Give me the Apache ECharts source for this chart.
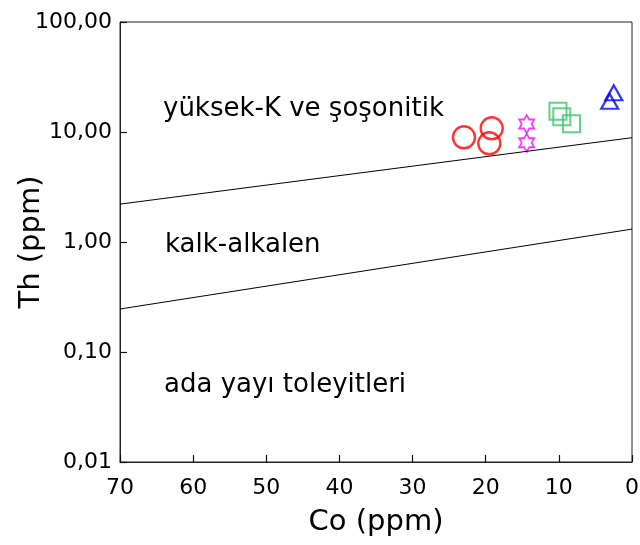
<!DOCTYPE html>
<html>
<head>
<meta charset="utf-8">
<script src="https://cdn.jsdelivr.net/npm/echarts@6/dist/echarts.min.js"></script>
<style>html,body{margin:0;padding:0;background:#fff}#c{width:640px;height:545px}</style>
</head>
<body>
<div id="c"></div>
<script>
// ---- data ----
var xTicks = [0, 10, 20, 30, 40, 50, 60, 70];
var yTickLabels = ['0,01', '0,10', '1,00', '10,00', '100,00'];
var upperBoundCo = [70, 0];
var upperBoundTh = [2.21, 8.88];
var lowerBoundCo = [70, 0];
var lowerBoundTh = [0.246, 1.31];
var circleCo = [22.97, 19.18, 19.51];
var circleTh = [8.95, 10.8, 7.89];
var starCo = [14.4, 14.4];
var starTh = [11.82, 7.99];
var squareCo = [10.12, 9.60, 8.27];
var squareTh = [15.45, 13.77, 11.88];
var triangleCo = [2.49, 3.05];
var triangleTh = [22.7, 19.0];
var fieldLabels = ['yüksek-K ve şoşonitik', 'kalk-alkalen', 'ada yayı toleyitleri'];

function pairs(xs, ys) { return xs.map(function (x, i) { return [x, ys[i]]; }); }
var FONT = 'DejaVu Sans';
var hexagram = 'path://M0,-1L0.2887,-0.5L0.866,-0.5L0.577,0L0.866,0.5L0.2887,0.5L0,1L-0.2887,0.5L-0.866,0.5L-0.577,0L-0.866,-0.5L-0.2887,-0.5Z';

var chart = echarts.init(document.getElementById('c'), null, {renderer: 'canvas'});
chart.setOption({
  animation: false,
  backgroundColor: '#fff',
  grid: {left: 120, right: 8, top: 22, bottom: 83, containLabel: false, outerBoundsMode: 'none',
    show: true, borderColor: '#222', borderWidth: 1, backgroundColor: 'transparent'},
  xAxis: {
    type: 'value', inverse: true, position: 'bottom', min: xTicks[0], max: xTicks[xTicks.length - 1], interval: 10,
    name: 'Co (ppm)', nameLocation: 'middle', nameGap: 46, nameMoveOverlap: false,
    nameTextStyle: {fontFamily: FONT, fontSize: 29, color: '#000'},
    axisLine: {show: true, onZero: false, lineStyle: {color: '#222', width: 1}},
    axisTick: {show: true, inside: true, length: 7, lineStyle: {color: '#111', width: 1.2}},
    axisLabel: {fontFamily: FONT, fontSize: 22, color: '#000', margin: 15},
    splitLine: {show: false}
  },
  yAxis: {
    type: 'log', logBase: 10, min: 0.01, max: 100, position: 'left',
    name: 'Th (ppm)', nameLocation: 'middle', nameGap: 74, nameMoveOverlap: false,
    nameTextStyle: {fontFamily: FONT, fontSize: 29, color: '#000'},
    axisLine: {show: true, onZero: false, lineStyle: {color: '#222', width: 1}},
    axisTick: {show: true, inside: true, length: 7, lineStyle: {color: '#111', width: 1.2}},
    axisLabel: {fontFamily: FONT, fontSize: 22, color: '#000', margin: 8,
      formatter: function (v) { return yTickLabels[Math.round(Math.log10(v)) + 2]; }},
    splitLine: {show: false}, minorTick: {show: false}
  },
  series: [
    {type: 'line', data: pairs(upperBoundCo, upperBoundTh), symbol: 'none', lineStyle: {color: '#000', width: 1}, silent: true},
    {type: 'line', data: pairs(lowerBoundCo, lowerBoundTh), symbol: 'none', lineStyle: {color: '#000', width: 1}, silent: true},
    {type: 'scatter', data: pairs(circleCo, circleTh), symbol: 'circle', symbolSize: 22,
      itemStyle: {color: 'rgba(0,0,0,0)', borderColor: '#ff0000', borderWidth: 2.4}},
    {type: 'scatter', data: pairs(starCo, starTh), symbol: hexagram, symbolSize: [15, 18],
      itemStyle: {color: 'rgba(0,0,0,0)', borderColor: '#ff00ff', borderWidth: 1.8}},
    {type: 'scatter', data: pairs(squareCo, squareTh), symbol: 'rect', symbolSize: 17,
      itemStyle: {color: 'rgba(0,0,0,0)', borderColor: '#3cc86a', borderWidth: 2}},
    {type: 'scatter', data: pairs(triangleCo, triangleTh), symbol: 'triangle', symbolSize: [17, 15],
      itemStyle: {color: 'rgba(0,0,0,0)', borderColor: '#0000ff', borderWidth: 2.2}}
  ],
  graphic: [
    {type: 'text', left: 163, top: 96, style: {text: fieldLabels[0], font: '26px "DejaVu Sans"', fill: '#000'}},
    {type: 'text', left: 165, top: 232, style: {text: fieldLabels[1], font: '26px "DejaVu Sans"', fill: '#000'}},
    {type: 'text', left: 164, top: 372, style: {text: fieldLabels[2], font: '26px "DejaVu Sans"', fill: '#000'}}
  ]
});
</script>
</body>
</html>
